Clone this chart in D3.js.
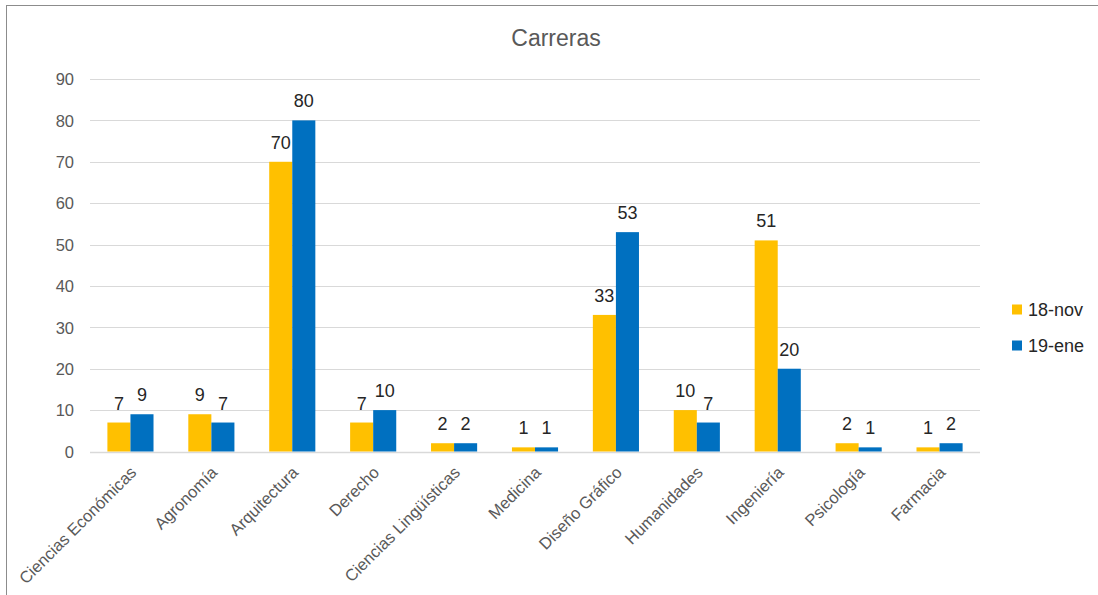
<!DOCTYPE html>
<html>
<head>
<meta charset="utf-8">
<script src="https://cdn.jsdelivr.net/npm/d3@7"></script>
<style>
  html, body { margin: 0; padding: 0; background: #fff; }
  svg { display: block; font-family: "Liberation Sans", Arial, sans-serif; }
</style>
</head>
<body>
<svg id="chart" width="1098" height="595"></svg>
<script>
const categories = ["Ciencias Económicas", "Agronomía", "Arquitectura", "Derecho", "Ciencias Lingüísticas", "Medicina", "Diseño Gráfico", "Humanidades", "Ingeniería", "Psicología", "Farmacia"];
const seriesNames = ["18-nov", "19-ene"];
const nov18 = [7, 9, 70, 7, 2, 1, 33, 10, 51, 2, 1];
const ene19 = [9, 7, 80, 10, 2, 1, 53, 7, 20, 1, 2];
const yTicks = [0, 10, 20, 30, 40, 50, 60, 70, 80, 90];
const colors = ["#FFC000", "#0070C0"];
const title = "Carreras";

(function () {
const svg = d3.select("#chart");
const pLeft = 90, pRight = 980, pTop = 79, pBottom = 451.5;

// chart border (top and left edges visible)
svg.append("line").attr("x1", 6).attr("x2", 1098).attr("y1", 5.5).attr("y2", 5.5)
  .attr("stroke", "#8c8c8c").attr("stroke-width", 1);
svg.append("line").attr("x1", 6.5).attr("x2", 6.5).attr("y1", 5).attr("y2", 595)
  .attr("stroke", "#8c8c8c").attr("stroke-width", 1);

const x0 = d3.scaleBand().domain(categories).range([pLeft, pRight]).paddingInner(0.43).paddingOuter(0.215);
const x1 = d3.scaleBand().domain(seriesNames).range([0, x0.bandwidth()]);
const y = d3.scaleLinear().domain([0, 90]).range([pBottom, pTop]);

// gridlines
svg.append("g").selectAll("line").data(yTicks).join("line")
  .attr("x1", pLeft).attr("x2", pRight)
  .attr("y1", d => Math.round(y(d)) + 0.5).attr("y2", d => Math.round(y(d)) + 0.5)
  .attr("stroke", "#d9d9d9").attr("stroke-width", d => d === 0 ? 1.5 : 1.2);

// y axis labels
const yAxis = d3.axisLeft(y).tickValues(yTicks).tickSize(0).tickPadding(0);
const ga = svg.append("g").attr("transform", `translate(74,0)`).call(yAxis);
ga.select(".domain").remove();
ga.selectAll("text").attr("fill", "#595959").attr("font-size", 16.5)
  .attr("font-family", "Liberation Sans, Arial, sans-serif").attr("dy", "0.35em");

// bars
const data = categories.map((c, i) => ({ cat: c, vals: [nov18[i], ene19[i]] }));
const groups = svg.append("g").selectAll("g").data(data).join("g")
  .attr("transform", d => `translate(${x0(d.cat)},0)`);
groups.selectAll("rect").data(d => d.vals.map((v, j) => ({ key: seriesNames[j], v, j })))
  .join("rect")
  .attr("x", d => x1(d.key))
  .attr("width", x1.bandwidth())
  .attr("y", d => y(d.v))
  .attr("height", d => y(0) - y(d.v))
  .attr("fill", d => colors[d.j]);

// data labels
groups.selectAll("text").data(d => d.vals.map((v, j) => ({ key: seriesNames[j], v, j })))
  .join("text")
  .attr("x", d => x1(d.key) + x1.bandwidth() / 2)
  .attr("y", d => y(d.v) - 13)
  .attr("text-anchor", "middle")
  .attr("fill", "#262626")
  .attr("font-size", 18)
  .text(d => d.v);

// x axis labels (rotated)
const xAxis = d3.axisBottom(x0).tickSize(0).tickPadding(0);
const gx = svg.append("g").attr("transform", `translate(0,${pBottom})`).call(xAxis);
gx.select(".domain").remove();
gx.selectAll(".tick text")
  .attr("fill", "#595959").attr("font-size", 16.5)
  .attr("font-family", "Liberation Sans, Arial, sans-serif")
  .attr("text-anchor", "end")
  .attr("dy", null)
  .attr("y", 0)
  .attr("transform", "translate(7,22) rotate(-45)");

// title
svg.append("text").attr("x", 556).attr("y", 46).attr("text-anchor", "middle")
  .attr("fill", "#595959").attr("font-size", 23).text(title);

// legend
const lg = svg.append("g").selectAll("g").data(seriesNames).join("g")
  .attr("transform", (d, i) => `translate(1012,${309.5 + i * 36})`);
lg.append("rect").attr("x", 0).attr("y", -5).attr("width", 10).attr("height", 10)
  .attr("fill", (d, i) => colors[i]);
lg.append("text").attr("x", 16).attr("y", 0).attr("dy", "0.35em")
  .attr("fill", "#262626").attr("font-size", 18).text(d => d);
})();
</script>
</body>
</html>
